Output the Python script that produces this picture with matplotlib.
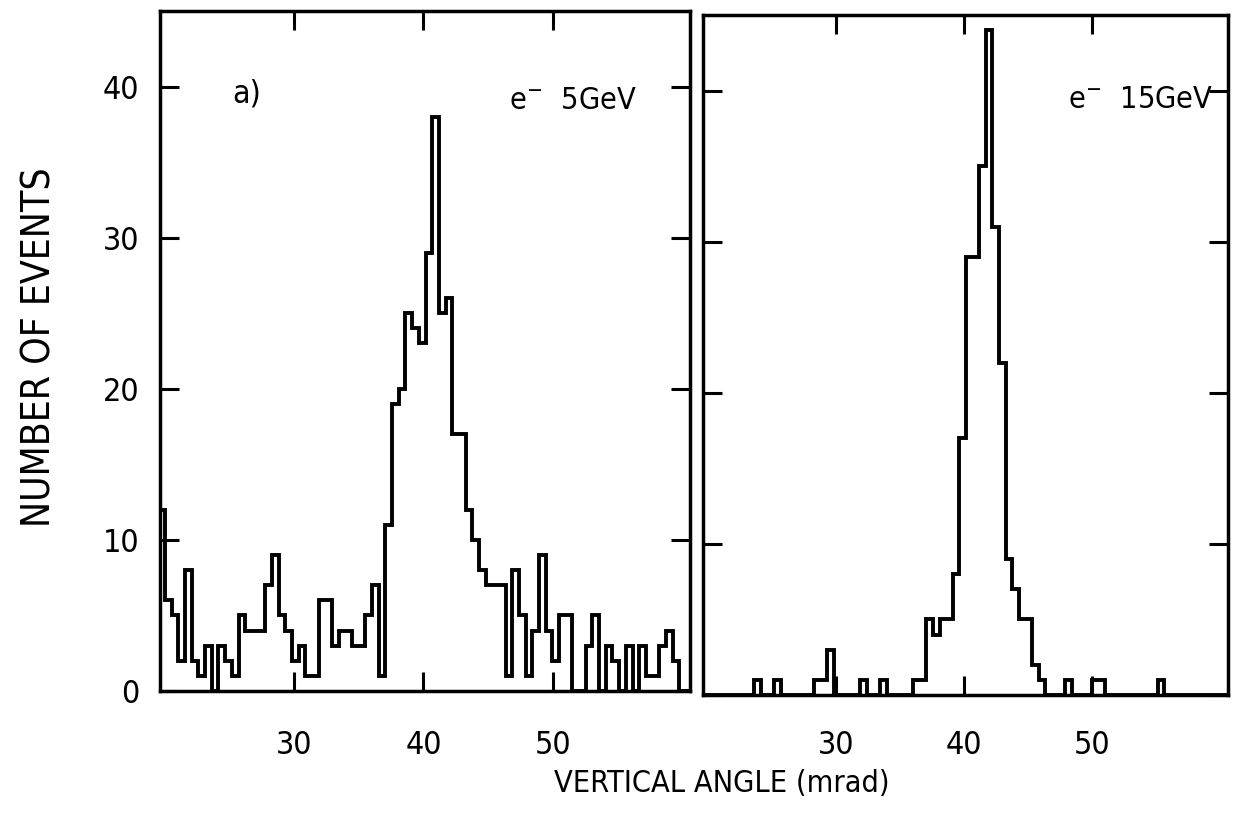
import matplotlib.pyplot as plt
import numpy as np

# narrow lettering, close to the plotter font
plt.rcParams['font.family'] = ['DejaVu Sans']
plt.rcParams['font.stretch'] = 'condensed'

# binning of the vertical angle (mrad)
first_edge = 19.524
bin_width = 0.516
n_bins = 80

# events per bin, e- at 5 GeV
counts_5gev = [12, 6, 5, 2, 8, 2, 1, 3, 0, 3,
               2, 1, 5, 4, 4, 4, 7, 9, 5, 4,
               2, 3, 1, 1, 6, 6, 3, 4, 4, 3,
               3, 5, 7, 1, 11, 19, 20, 25, 24, 23,
               29, 38, 25, 26, 17, 17, 12, 10, 8, 7,
               7, 7, 1, 8, 5, 1, 4, 9, 4, 2,
               5, 5, 0, 0, 3, 5, 0, 3, 2, 0,
               3, 0, 3, 1, 1, 3, 4, 2, 0, 0]

# events per bin, e- at 15 GeV
counts_15gev = [0, 0, 0, 0, 0, 0, 0, 0, 1, 0,
                0, 1, 0, 0, 0, 0, 0, 1, 1, 3,
                0, 0, 0, 0, 1, 0, 0, 1, 0, 0,
                0, 0, 1, 1, 5, 4, 5, 5, 8, 17,
                29, 29, 35, 44, 31, 22, 9, 7, 5, 5,
                2, 1, 0, 0, 0, 1, 0, 0, 0, 1,
                1, 0, 0, 0, 0, 0, 0, 0, 0, 1,
                0, 0, 0, 0, 0, 0, 0, 0, 0, 0]

x_ticks = [30, 40, 50]
y_ticks = [0, 10, 20, 30, 40]
panel_labels = [r'e$^{-}$  5GeV', r'e$^{-}$  15GeV']

edges = first_edge + bin_width * np.arange(n_bins + 1)

fig = plt.figure(figsize=(12.5, 8.25), dpi=100)
ax_left = fig.add_axes([0.128, 0.1624, 0.424, 0.8242])
ax_right = fig.add_axes([0.5624, 0.1576, 0.42, 0.8242])

for ax, counts in ((ax_left, counts_5gev), (ax_right, counts_15gev)):
    ax.stairs(counts, edges, color='black', linewidth=2.8)
    ax.set_xlim(19.65, 60.6)
    ax.set_ylim(0, 45)
    ax.set_xticks(x_ticks)
    ax.set_yticks(y_ticks)
    ax.tick_params(direction='in', length=14, width=2.2, top=True, right=True,
                   labelsize=23, color='black')
    ax.tick_params(axis='y', pad=15)
    for side in ax.spines.values():
        side.set_linewidth(2.5)

ax_left.tick_params(axis='x', pad=28)
ax_right.tick_params(axis='x', pad=25)
ax_right.tick_params(axis='y', labelleft=False)

# annotations inside the panels
ax_left.text(25.2, 39.5, 'a)', fontsize=23, va='center')
ax_left.text(46.6, 39.1, panel_labels[0], fontsize=22, va='center')
ax_right.text(48.1, 39.4, panel_labels[1], fontsize=22, va='center')

fig.text(0.032, 1 - 347 / 825, 'NUMBER OF EVENTS', rotation=90,
         fontsize=28, ha='center', va='center')
fig.text(722 / 1250, 1 - 783 / 825, 'VERTICAL ANGLE (mrad)',
         fontsize=22, ha='center', va='center')

fig.savefig('out.png', dpi=100, facecolor='white')
